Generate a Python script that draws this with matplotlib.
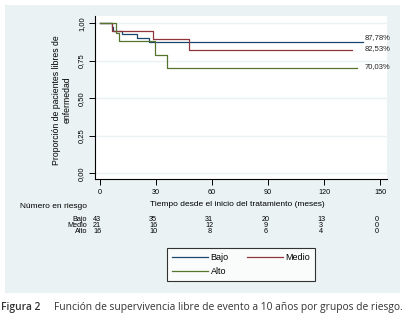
import matplotlib
matplotlib.use("Agg")
import matplotlib.pyplot as plt
from matplotlib.lines import Line2D
from matplotlib.patches import Rectangle
import matplotlib.transforms as mtransforms

plt.rcParams['font.family'] = ['Liberation Sans', 'DejaVu Sans']

# ---- data ----
groups = ["Bajo", "Medio", "Alto"]
bajo_t = [0, 6.2, 7.1, 11.9, 20, 26, 141]
bajo_s = [1.0, 0.977, 0.951, 0.927, 0.905, 0.8778, 0.8778]
medio_t = [0, 6.6, 28.5, 47.7, 134.8]
medio_s = [1.0, 0.952, 0.893, 0.8253, 0.8253]
alto_t = [0, 8.8, 10.2, 29.6, 36.0, 137.5]
alto_s = [1.0, 0.9375, 0.879, 0.788, 0.7003, 0.7003]
final_labels = ["87,78%", "82,53%", "70,03%"]
x_ticks = [0, 30, 60, 90, 120, 150]
y_ticks = [0.0, 0.25, 0.5, 0.75, 1.0]
y_tick_labels = ["0,00", "0,25", "0,50", "0,75", "1,00"]
at_risk = {
    "Bajo": [43, 35, 31, 20, 13, 0],
    "Medio": [21, 16, 12, 9, 3, 0],
    "Alto": [16, 10, 8, 6, 4, 0],
}
colors = {"Bajo": "#1a476f", "Medio": "#90353b", "Alto": "#55752f"}

W, H = 403, 323
fig = plt.figure(figsize=(W / 100, H / 100), dpi=100)
fig.patch.set_facecolor("white")

def fx(px):
    return px / W

def fy(py):
    return 1 - py / H

# background region
bg = Rectangle((fx(5), fy(293)), fx(400) - fx(5), fy(5) - fy(293),
               transform=fig.transFigure, facecolor="#eaf2f3",
               edgecolor="none", zorder=-10)
fig.patches.append(bg)

ax = fig.add_axes([fx(95), fy(179), fx(387) - fx(95), fy(16) - fy(179)])
ax.set_zorder(1)
ax.set_facecolor("white")
ax.set_xlim(-2.68, 153.75)
ax.set_ylim(-0.038, 1.0487)

for y in y_ticks:
    ax.axhline(y, color="#eaf2f3", lw=1.0, zorder=1)

series = [(bajo_t, bajo_s), (medio_t, medio_s), (alto_t, alto_s)]
for g, (t, s) in zip(groups, series):
    ax.step(t, s, where="post", color=colors[g], lw=0.9, zorder=3)

label_y = [0.902, 0.83, 0.712]
for lab, ly in zip(final_labels, label_y):
    ax.text(141.5, ly, lab, fontsize=5.5, color="#222222", ha="left", va="center")

for sp in ["top", "right"]:
    ax.spines[sp].set_visible(False)
ax.spines["left"].set_linewidth(0.8)
ax.spines["bottom"].set_linewidth(0.8)
ax.set_xticks(x_ticks)
ax.set_xticklabels([str(v) for v in x_ticks], fontsize=5.2)
ax.set_yticks(y_ticks)
ax.set_yticklabels(y_tick_labels, fontsize=5.5, rotation=90, va="center")
ax.tick_params(axis="both", length=4, width=0.7, pad=3, colors="black")

fig.text(fx(62), fy(100), "Proporción de pacientes libres de\nenfermedad",
         fontsize=6.2, rotation=90, ha="center", va="center", linespacing=1.15)

trans = mtransforms.blended_transform_factory(ax.transData, fig.transFigure)
fig.text(fx(237), fy(204), "Tiempo desde el inicio del tratamiento (meses)",
         fontsize=6.0, ha="center", va="center")
fig.text(fx(20), fy(207), "Número en riesgo", fontsize=6.0, ha="left", va="center")

row_y = [219.3, 225.3, 231.3]
for g, ry in zip(groups, row_y):
    fig.text(fx(87), fy(ry), g, fontsize=5.2, ha="right", va="center")
    for xv, n in zip(x_ticks, at_risk[g]):
        ax.text(xv - 1.5, fy(ry), str(n), transform=trans, fontsize=5.2,
                ha="center", va="center")

order = ["Bajo", "Alto", "Medio"]
handles = [Line2D([], [], color=colors[g], lw=0.9) for g in order]
leg = fig.legend(handles, order, loc="center", bbox_to_anchor=(fx(241), fy(264.7)),
                 ncol=2, fontsize=6.5, frameon=True, fancybox=False,
                 edgecolor="black", handlelength=4.0, handletextpad=0.3,
                 columnspacing=2.0, borderpad=0.5, labelspacing=0.6)
leg.get_frame().set_linewidth(0.8)

fig.text(fx(1), fy(307.5), "Figura 2", fontsize=7.4, ha="left", va="center",
         family=["Open Sans", "DejaVu Sans"], color="#333333", fontweight="semibold")
fig.text(fx(54), fy(307.5),
         "Función de supervivencia libre de evento a 10 años por grupos de riesgo.",
         fontsize=7.4, ha="left", va="center", family=["Open Sans", "DejaVu Sans"],
         color="#333333")

fig.savefig("out.png", dpi=100, facecolor="white")
